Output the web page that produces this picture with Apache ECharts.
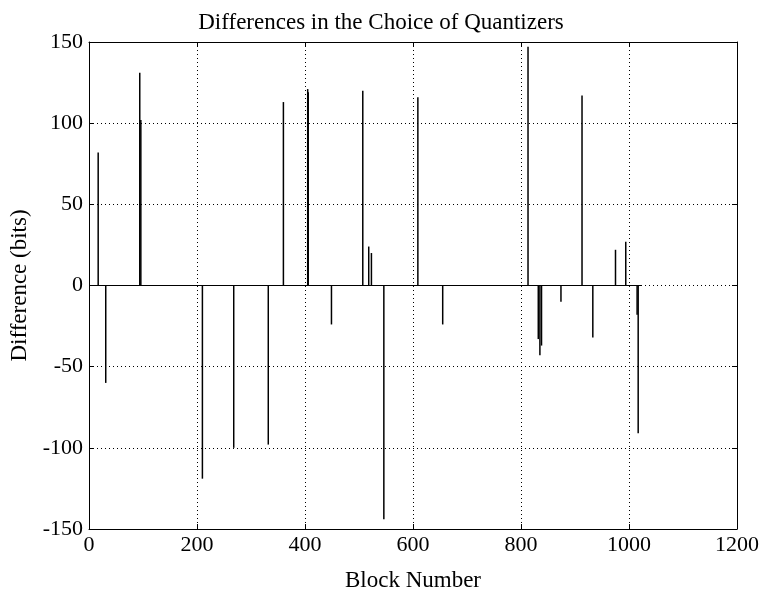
<!DOCTYPE html>
<html>
<head>
<meta charset="utf-8">
<script src="https://cdn.jsdelivr.net/npm/echarts@6/dist/echarts.min.js"></script>
<style>html,body{margin:0;padding:0;background:#fff}#c{width:762px;height:592px}</style>
</head>
<body>
<div id="c"></div>
<script>
var titleText = 'Differences in the Choice of Quantizers';
var xLabel = 'Block Number';
var yLabel = 'Difference (bits)';
var blocks = [17, 31, 94, 96, 210, 268, 332, 360, 405, 406, 449, 507, 518, 523, 546, 609, 655, 813, 832, 835, 838, 874, 913, 933, 975, 994, 1015, 1017];
var diffs  = [82, -60, 131, 102, -119, -100, -98, 113, 121, 119, -24, 120, 24, 20, -144, 116, -24, 147, -33, -43, -37, -10, 117, -32, 22, 27, -18, -91];
var baselineX = [1, 1024];
var xTicks = [0, 200, 400, 600, 800, 1000, 1200];
var yTicks = [-150, -100, -50, 0, 50, 100, 150];

var FONT = '"Liberation Serif", "DejaVu Serif", serif';
var spikeData = blocks.map(function (b, i) { return [b, diffs[i]]; });
var baseData = baselineX.map(function (x) { return [x, 0]; });

var chart = echarts.init(document.getElementById('c'), null, {renderer: 'canvas'});
var lineStyle = {color: '#000', width: 1};
var gridLine = {show: true, lineStyle: {color: '#000', type: [1, 3], width: 1}};
var plain = function (v) { return String(v); };
chart.setOption({
  animation: false,
  backgroundColor: '#fff',
  title: {
    text: titleText, left: 'center', top: 6,
    textStyle: {fontFamily: FONT, fontSize: 23, fontWeight: 'normal', color: '#000'}
  },
  grid: {left: 89, right: 25, top: 42, bottom: 63, containLabel: false, outerBoundsMode: 'none'},
  xAxis: [{
    type: 'value', min: xTicks[0], max: xTicks[xTicks.length - 1], interval: 200,
    position: 'bottom',
    axisLine: {show: true, onZero: false, lineStyle: lineStyle},
    axisTick: {show: true, inside: true, length: 5, lineStyle: lineStyle},
    axisLabel: {fontFamily: FONT, fontSize: 22, color: '#000', margin: 5, formatter: plain},
    splitLine: gridLine,
    name: xLabel, nameLocation: 'middle', nameGap: 40,
    nameTextStyle: {fontFamily: FONT, fontSize: 23, color: '#000'}
  }, {
    type: 'value', min: xTicks[0], max: xTicks[xTicks.length - 1], interval: 200,
    position: 'top',
    axisLine: {show: true, onZero: false, lineStyle: lineStyle},
    axisTick: {show: true, inside: true, length: 5, lineStyle: lineStyle},
    axisLabel: {show: false}, splitLine: {show: false}
  }],
  yAxis: [{
    type: 'value', min: yTicks[0], max: yTicks[yTicks.length - 1], interval: 50,
    position: 'left',
    axisLine: {show: true, onZero: false, lineStyle: lineStyle},
    axisTick: {show: true, inside: true, length: 5, lineStyle: lineStyle},
    axisLabel: {fontFamily: FONT, fontSize: 22, color: '#000', margin: 6, formatter: plain},
    splitLine: gridLine,
    name: yLabel, nameLocation: 'middle', nameGap: 57, nameRotate: 90,
    nameTextStyle: {fontFamily: FONT, fontSize: 23, color: '#000'}
  }, {
    type: 'value', min: yTicks[0], max: yTicks[yTicks.length - 1], interval: 50,
    position: 'right',
    axisLine: {show: true, onZero: false, lineStyle: lineStyle},
    axisTick: {show: true, inside: true, length: 5, lineStyle: lineStyle},
    axisLabel: {show: false}, splitLine: {show: false}
  }],
  series: [{
    type: 'line', data: baseData, xAxisIndex: 0, yAxisIndex: 0,
    showSymbol: false, lineStyle: {color: '#000', width: 1}, z: 3
  }, {
    type: 'bar', data: spikeData, xAxisIndex: 0, yAxisIndex: 0,
    barWidth: 1.5, itemStyle: {color: '#000'}, z: 4
  }]
});
</script>
</body>
</html>
